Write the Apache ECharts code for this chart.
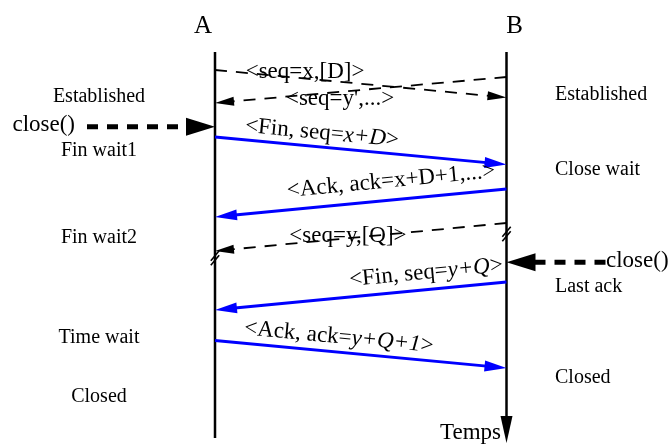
<!DOCTYPE html>
<html><head><meta charset="utf-8">
<script src="https://cdn.jsdelivr.net/npm/echarts@6/dist/echarts.min.js"></script>
<style>html,body{margin:0;padding:0;background:#fff}#c{width:671px;height:444px}</style>
</head><body><div id="c"></div>
<script>
// ---------- data ----------
const participants = ['A', 'B'];
const lifelineStart = [52, 52];
const lifelineEnd = [438, 443];
const timeLabel = 'Temps';

const msgFrom  = ['A', 'B', 'A', 'B', 'B', 'B', 'A'];
const msgTo    = ['B', 'A', 'B', 'A', 'A', 'A', 'B'];
const msgSendT = [70, 77, 137, 189, 223, 282, 340.5];
const msgRecvT = [97.5, 103, 164.5, 217, 251, 310, 368];
const msgType  = ['data', 'data', 'ctrl', 'ctrl', 'data', 'ctrl', 'ctrl'];
const msgLabels = ['<seq=x,[D]>', "<seq=y',...>", '<Fin, seq={i|x+D}>', '<Ack, ack=x+D+1,...>',
                   '<seq=y,[Q]>', '<Fin, seq={i|y+Q}>', '<Ack, ack={i|y+Q+1}>'];

const stateA  = ['Established', 'Fin wait1', 'Fin wait2', 'Time wait', 'Closed'];
const stateAT = [96.6, 150.5, 238, 338, 396.6];
const stateB  = ['Established', 'Close wait', 'Last ack', 'Closed'];
const stateBT = [95, 170, 286.5, 378];

const closeCaller = ['A', 'B'];
const closeT = [126.7, 262.3];
const closeText = 'close()';

const breakWho = ['A', 'B'];
const breakT = [258, 234];

// ---------- layout / style ----------
const L = { aPx: 215, bPx: 506.5, width: 671, height: 444 };
const FONT = 'Liberation Serif';
const msgLabelFrac = [0.309, 0.429, 0.367, 0.604, 0.456, 0.724, 0.425];
const msgLabelOff  = [-7, 7, -14, -19, -2, -17, -15];
const msgLabelRot  = [false, false, true, true, false, true, true];
const partLabelDx = [-12, 8];
const partLabelY = 26.5;
const closeArrowLen = [128, 99];
const closeTextGap = [12, 0.5];

const idx = p => participants.indexOf(p);
const xMin = -L.aPx / (L.bPx - L.aPx);
const xMax = (L.width - L.aPx) / (L.bPx - L.aPx);

function arrowHead(tip, ux, uy, hl, hw) {
  const bx = tip[0] - ux * hl, by = tip[1] - uy * hl;
  return { base: [bx, by], points: [[tip[0], tip[1]], [bx - uy * hw, by + ux * hw], [bx + uy * hw, by - ux * hw]] };
}

function renderLifeline(params, api) {
  const i = api.value(0);
  const p0 = api.coord([i, api.value(1)]);
  const p1 = api.coord([i, api.value(2)]);
  const children = [];
  const ch = [];
  if (i === 1) {
    const ah = arrowHead(p1, 0, 1, 27, 6);
    children.push({ type: 'line', shape: { x1: p0[0], y1: p0[1], x2: ah.base[0], y2: ah.base[1] + 2 }, style: { stroke: '#000', lineWidth: 2.5 } });
    children.push({ type: 'polygon', shape: { points: ah.points }, style: { fill: '#000' } });
    children.push({ type: 'text', x: p1[0] - 5.5, y: p1[1] - 10, style: { text: timeLabel, x: 0, y: 0, align: 'right', verticalAlign: 'middle', fontFamily: FONT, fontSize: 23, fill: '#000' } });
  } else {
    children.push({ type: 'line', shape: { x1: p0[0], y1: p0[1], x2: p1[0], y2: p1[1] }, style: { stroke: '#000', lineWidth: 2.5 } });
  }
  const pl = api.coord([i, partLabelY]);
  children.push({ type: 'text', x: pl[0] + partLabelDx[i], y: pl[1], style: { text: participants[i], x: 0, y: 0, align: 'center', verticalAlign: 'middle', fontFamily: FONT, fontSize: 25, fill: '#000' } });
  return { type: 'group', children };
}

function renderMsg(params, api) {
  const i = params.dataIndex;
  const fx = api.value(0), tx = api.value(2);
  const p0 = api.coord([fx, api.value(1)]);
  const p1 = api.coord([tx, api.value(3)]);
  const ctrl = msgType[i] === 'ctrl';
  const color = ctrl ? '#0000ff' : '#000';
  const dx = p1[0] - p0[0], dy = p1[1] - p0[1], len = Math.hypot(dx, dy);
  const ux = dx / len, uy = dy / len;
  const ah = arrowHead(p1, ux, uy, ctrl ? 22 : 19, ctrl ? 5.5 : 4.5);
  const lineStyle = { stroke: color, lineWidth: ctrl ? 3 : 1.8 };
  if (!ctrl) lineStyle.lineDash = [12, 9];
  const children = [
    { type: 'line', shape: { x1: p0[0], y1: p0[1], x2: ah.base[0] + ux * 2, y2: ah.base[1] + uy * 2 }, style: lineStyle },
    { type: 'polygon', shape: { points: ah.points }, style: { fill: color } }
  ];
  const pa = fx === 0 ? p0 : p1, pb = fx === 0 ? p1 : p0;
  const f = msgLabelFrac[i];
  const lx = pa[0] + (pb[0] - pa[0]) * f;
  const ly = pa[1] + (pb[1] - pa[1]) * f + msgLabelOff[i];
  const ang = Math.atan2(pb[1] - pa[1], pb[0] - pa[0]);
  children.push({
    type: 'text', x: lx, y: ly, rotation: msgLabelRot[i] ? -ang : 0,
    style: {
      text: msgLabels[i], x: 0, y: 0, align: 'center', verticalAlign: 'middle',
      fontFamily: FONT, fontSize: 23, fill: '#000',
      rich: { i: { fontStyle: 'italic', fontFamily: FONT, fontSize: 23, fill: '#000' } }
    }
  });
  return { type: 'group', children };
}

function renderClose(params, api) {
  const i = api.value(0);
  const tip = api.coord([i, api.value(1)]);
  const dir = i === 0 ? 1 : -1;
  const start = [tip[0] - dir * closeArrowLen[params.dataIndex], tip[1]];
  const ah = arrowHead(tip, dir, 0, 29, 9);
  return {
    type: 'group', children: [
      { type: 'line', shape: { x1: start[0], y1: start[1], x2: ah.base[0] + dir * 2, y2: ah.base[1] }, style: { stroke: '#000', lineWidth: 5, lineDash: [11, 9] } },
      { type: 'polygon', shape: { points: ah.points }, style: { fill: '#000' } },
      { type: 'text', x: start[0] - dir * closeTextGap[params.dataIndex], y: tip[1] - 1.5,
        style: { text: closeText, x: 0, y: 0, align: i === 0 ? 'right' : 'left', verticalAlign: 'middle', fontFamily: FONT, fontSize: 23, fill: '#000' } }
    ]
  };
}

function renderBreak(params, api) {
  const c = api.coord([api.value(0), api.value(1)]);
  const a = 50 * Math.PI / 180, h = 6.5;
  const ux = Math.cos(a) * h, uy = -Math.sin(a) * h;
  const mk = off => ({ type: 'line', shape: { x1: c[0] - ux, y1: c[1] + off - uy, x2: c[0] + ux, y2: c[1] + off + uy }, style: { stroke: '#000', lineWidth: 1.6 } });
  return { type: 'group', children: [mk(-2.2), mk(2.2)] };
}

function renderState(params, api) {
  const i = api.value(0);
  const p = api.coord([i, api.value(1)]);
  const left = i === 0;
  return {
    type: 'text', x: left ? p[0] - 116 : p[0] + 48.5, y: p[1],
    style: { text: api.value(2), x: 0, y: 0, align: left ? 'center' : 'left', verticalAlign: 'middle', fontFamily: FONT, fontSize: 20, fill: '#000' }
  };
}

const stateData = stateA.map((s, k) => [0, stateAT[k], s]).concat(stateB.map((s, k) => [1, stateBT[k], s]));

const chart = echarts.init(document.getElementById('c'), null, { renderer: 'canvas' });
chart.setOption({
  animation: false,
  backgroundColor: '#fff',
  grid: { left: 0, right: 0, top: 0, bottom: 0 },
  xAxis: { type: 'value', min: xMin, max: xMax, show: false },
  yAxis: { type: 'value', min: 0, max: L.height, inverse: true, show: false },
  series: [
    { type: 'custom', coordinateSystem: 'cartesian2d', silent: true, renderItem: renderLifeline,
      data: participants.map((p, i) => [i, lifelineStart[i], lifelineEnd[i]]) },
    { type: 'custom', coordinateSystem: 'cartesian2d', silent: true, renderItem: renderBreak,
      data: breakWho.map((w, k) => [idx(w), breakT[k]]) },
    { type: 'custom', coordinateSystem: 'cartesian2d', silent: true, renderItem: renderMsg,
      data: msgFrom.map((f, k) => [idx(f), msgSendT[k], idx(msgTo[k]), msgRecvT[k]]) },
    { type: 'custom', coordinateSystem: 'cartesian2d', silent: true, renderItem: renderClose,
      data: closeCaller.map((w, k) => [idx(w), closeT[k]]) },
    { type: 'custom', coordinateSystem: 'cartesian2d', silent: true, renderItem: renderState,
      dimensions: ['who', 't', { name: 'label', type: 'ordinal' }],
      data: stateData }
  ]
});
</script>
</body></html>
